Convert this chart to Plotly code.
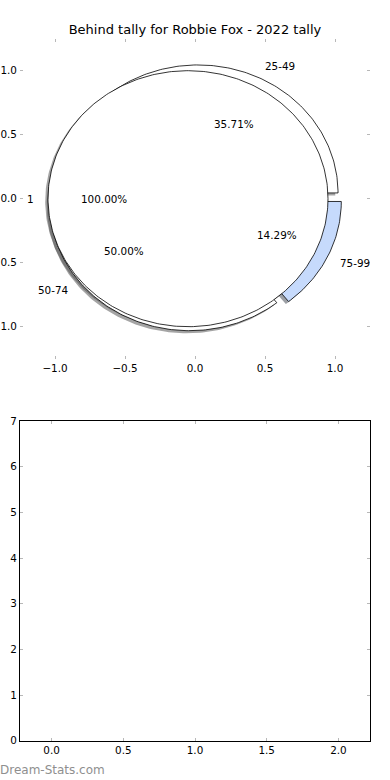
import numpy as np
import plotly.graph_objects as go

# ---------------- data ----------------
title_text = "Behind tally for Robbie Fox - 2022 tally"
outer_labels = ["25-49", "50-74", "75-99"]
outer_values = [5, 7, 2]
outer_colors = ["#ffffff", "#ffffff", "#c6dafc"]
inner_labels = ["1"]
inner_values = [14]
inner_colors = ["#ffffff"]
pie_ticks = [-1.0, -0.5, 0.0, 0.5, 1.0]
bottom_xticks = [0.0, 0.5, 1.0, 1.5, 2.0]
bottom_yticks = [0, 1, 2, 3, 4, 5, 6, 7]
watermark = "Dream-Stats.com"

# ---------------- style constants ----------------
RADIUS = 1.0
EXPLODE = 0.05
SHADOW_DX, SHADOW_DY = -0.02, -0.02
LABEL_DIST = 1.1
PCT_DIST = 0.6
FONT = "DejaVu Sans"
LBL_SIZE = 10.4
W, H = 390, 780


def hex_to_rgb(h):
    h = h.lstrip("#")
    return tuple(int(h[i:i + 2], 16) for i in (0, 2, 4))


def wedge_angles(values):
    total = float(sum(values))
    res, t1 = [], 0.0
    for v in values:
        t2 = t1 + 360.0 * v / total
        res.append((t1, t2, v / total))
        t1 = t2
    return res


def wedge_path(cx, cy, t1, t2, r):
    n = max(int(abs(t2 - t1)) + 2, 8)
    th = np.radians(np.linspace(t1, t2, n))
    xs = list(cx + r * np.cos(th))
    ys = list(cy + r * np.sin(th))
    if abs((t2 - t1) - 360.0) < 1e-9:
        return xs + [xs[0]], ys + [ys[0]]
    return [cx] + xs + [cx], [cy] + ys + [cy]


def build_pie(values, labels, colors):
    items = []
    for (t1, t2, frac), lab, col in zip(wedge_angles(values), labels, colors):
        tm = np.radians((t1 + t2) / 2.0)
        cx = EXPLODE * np.cos(tm)
        cy = EXPLODE * np.sin(tm)
        items.append(dict(t1=t1, t2=t2, frac=frac, tm=tm, cx=cx, cy=cy, label=lab, color=col))
    return items


outer = build_pie(outer_values, outer_labels, outer_colors)
inner = build_pie(inner_values, inner_labels, inner_colors)

fig = go.Figure()

# shadows (drawn beneath all wedges)
for it in outer + inner:
    xs, ys = wedge_path(it["cx"] + SHADOW_DX, it["cy"] + SHADOW_DY, it["t1"], it["t2"], RADIUS)
    r, g, b = hex_to_rgb(it["color"])
    fig.add_trace(go.Scatter(
        x=xs, y=ys, mode="lines", fill="toself",
        fillcolor=f"rgba({int(0.3*r)},{int(0.3*g)},{int(0.3*b)},0.5)",
        line=dict(width=0), hoverinfo="skip", showlegend=False,
        xaxis="x", yaxis="y"))

# wedges: outer pie first, inner pie on top
for it in outer + inner:
    xs, ys = wedge_path(it["cx"], it["cy"], it["t1"], it["t2"], RADIUS)
    fig.add_trace(go.Scatter(
        x=xs, y=ys, mode="lines", fill="toself", fillcolor=it["color"],
        line=dict(color="black", width=0.8), hoverinfo="skip", showlegend=False,
        xaxis="x", yaxis="y"))

annotations = []
for it in outer + inner:
    lx = it["cx"] + LABEL_DIST * RADIUS * np.cos(it["tm"])
    ly = it["cy"] + LABEL_DIST * RADIUS * np.sin(it["tm"])
    annotations.append(dict(
        x=lx, y=ly, xref="x", yref="y", text=it["label"], showarrow=False,
        xanchor="left" if lx > 0 else "right", yanchor="middle",
        borderpad=0, borderwidth=0,
        font=dict(family=FONT, size=LBL_SIZE, color="black")))
    px = it["cx"] + PCT_DIST * RADIUS * np.cos(it["tm"])
    py = it["cy"] + PCT_DIST * RADIUS * np.sin(it["tm"])
    annotations.append(dict(
        x=px, y=py, xref="x", yref="y", text=f"{it['frac']*100:.2f}%", showarrow=False,
        xanchor="center", yanchor="middle", borderpad=0, borderwidth=0,
        font=dict(family=FONT, size=LBL_SIZE, color="black")))

annotations.append(dict(
    x=0.0, y=(H - 770) / H, xref="paper", yref="paper", text=watermark,
    showarrow=False, xanchor="left", yanchor="middle", borderpad=0, borderwidth=0,
    font=dict(family=FONT, size=12, color="#8f8f8f")))

# empty bottom axes
fig.add_trace(go.Scatter(x=[], y=[], mode="markers", showlegend=False,
                         hoverinfo="skip", xaxis="x2", yaxis="y2"))

xdom = [20 / W, 370 / W]
tick_common = dict(ticks="inside", ticklen=3, tickcolor="#b8b8b8", tickwidth=1,
                   showgrid=False, zeroline=False, automargin=False,
                   mirror="allticks", showline=True,
                   tickfont=dict(family=FONT, size=LBL_SIZE, color="black"))

fig.update_layout(
    width=W, height=H,
    margin=dict(l=0, r=0, t=0, b=0, pad=0),
    paper_bgcolor="white", plot_bgcolor="white",
    showlegend=False,
    title=dict(text=title_text, x=0.5, xanchor="center", y=(H - 29) / H, yanchor="middle",
               font=dict(family=FONT, size=13, color="black")),
    xaxis=dict(domain=xdom, range=[-1.25, 1.25], tickvals=pie_ticks, tickformat=".1f",
               anchor="y", linecolor="rgba(0,0,0,0)", linewidth=1, **tick_common),
    yaxis=dict(domain=[(H - 358.7) / H, (H - 38.7) / H], range=[-1.25, 1.25],
               tickvals=pie_ticks, tickformat=".1f", anchor="x",
               linecolor="rgba(0,0,0,0)", linewidth=1, **tick_common),
    xaxis2=dict(domain=xdom, range=[-0.22, 2.22], tickvals=bottom_xticks, tickformat=".1f",
                anchor="y2", linecolor="black", linewidth=1, **tick_common),
    yaxis2=dict(domain=[(H - 740.7) / H, (H - 421) / H], range=[0, 7],
                tickvals=bottom_yticks, anchor="x2", linecolor="black",
                linewidth=1, **tick_common),
    annotations=annotations,
    font=dict(family=FONT),
)

fig.write_html("out.html", config={"displayModeBar": False})
